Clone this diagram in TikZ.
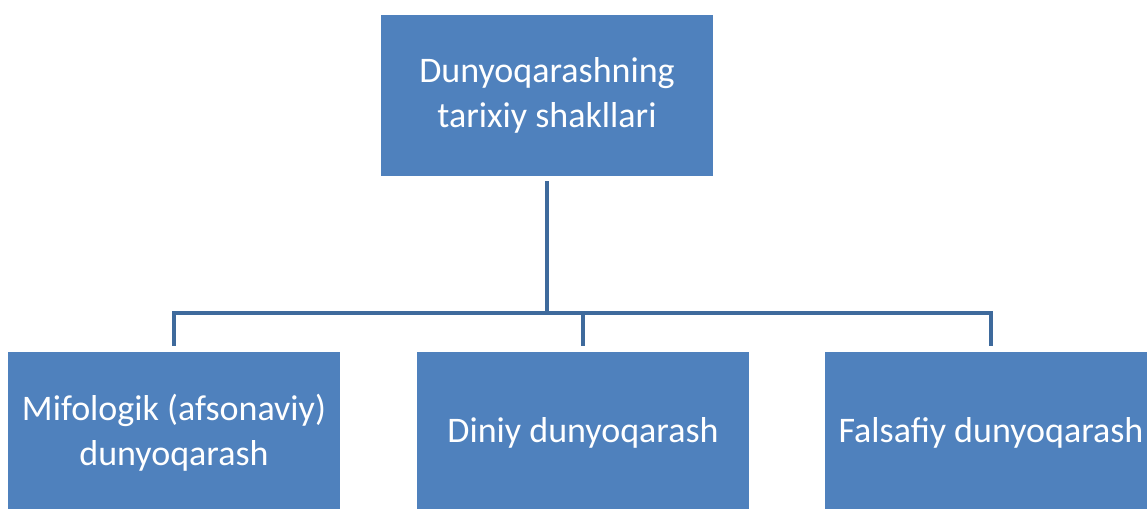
\documentclass[tikz,border=0pt]{standalone}
\usepackage{fontspec}
\setmainfont{Carlito}
\definecolor{boxblue}{HTML}{4F81BD}
\definecolor{lineblue}{HTML}{3E6A9C}
\begin{document}
\begin{tikzpicture}[x=1pt, y=1pt]
\useasboundingbox (0,0) rectangle (1147,-508);
\clip (0,0) rectangle (1147,-508);
\tikzset{every node/.style={rectangle, fill=boxblue, text=white, minimum width=332pt, minimum height=161pt, inner sep=0pt, align=center, font=\fontsize{36}{45}\selectfont}}
\node (t) at (547,-95.5) {Dunyoqarashning\\tarixiy shakllari};
\node (m) at (174,-432.5) {Mifologik (afsonaviy)\\dunyoqarash};
\node (d) at (583,-432.5) {Diniy dunyoqarash};
\node (f) at (991,-432.5) {Falsafiy dunyoqarash};

\tikzset{every node/.style={}};
\coordinate (bus) at (0,-313);
\tikzset{mystyle/.style={-,draw=lineblue,line width=4pt}};
\draw [mystyle, shorten <=5pt] (t.south) -- (t.south |- bus);
\draw [mystyle, shorten <=6pt, shorten >=6pt] (m.north) |- (bus -| f.north) -- (f.north);
\draw [mystyle, shorten <=6pt] (d.north) -- (d.north |- bus);
\end{tikzpicture}
\end{document}
